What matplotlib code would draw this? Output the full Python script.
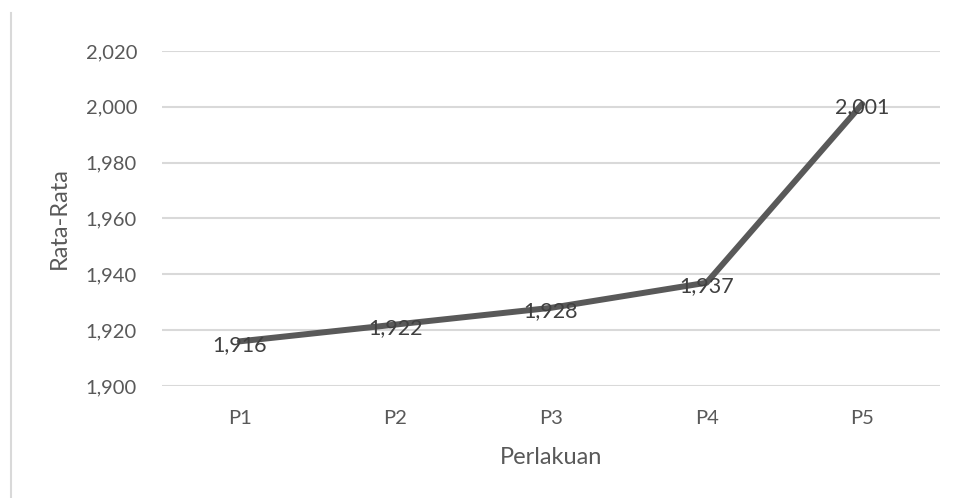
import matplotlib.pyplot as plt
from matplotlib.lines import Line2D
from matplotlib.ticker import FuncFormatter, MultipleLocator

plt.rcParams["font.family"] = ["Lato", "DejaVu Sans"]

perlakuan = ["P1", "P2", "P3", "P4", "P5"]
rata_rata = [1.916, 1.922, 1.928, 1.937, 2.001]

text_color = "#595959"
grid_color = "#d9d9d9"


def koma(v, pos=None):
    # decimal comma, three places
    return f"{v:.3f}".replace(".", ",")


fig = plt.figure(figsize=(9.62, 4.98), dpi=100)
ax = fig.add_axes([0.1684, 0.2249, 0.8087, 0.6727])

x = list(range(len(perlakuan)))
ax.plot(x, rata_rata, color="#595959", linewidth=4.3, solid_capstyle="round", zorder=3)

for xi, yi in zip(x, rata_rata):
    ax.text(xi, yi - 0.0012, koma(yi), ha="center", va="center", fontsize=15.5,
            color="#404040", zorder=4)

ax.set_xlim(-0.5, len(perlakuan) - 0.5)
ax.set_ylim(1.900, 2.020)
ax.yaxis.set_major_locator(MultipleLocator(0.020))
ax.yaxis.set_major_formatter(FuncFormatter(koma))
ax.set_xticks(x)
ax.set_xticklabels(perlakuan)

ax.grid(axis="y", color=grid_color, linewidth=1.5)
ax.set_axisbelow(True)
for s in ax.spines.values():
    s.set_visible(False)
ax.tick_params(axis="both", length=0, colors=text_color, labelsize=14.5)
ax.tick_params(axis="y", pad=18)
ax.tick_params(axis="x", pad=17)

ax.set_xlabel("Perlakuan", fontsize=17, color=text_color, labelpad=15)
ax.set_ylabel("Rata-Rata", fontsize=17, color=text_color, labelpad=11)

# thin border line on the left edge
fig.add_artist(Line2D([11 / 962, 11 / 962], [0, 1 - 13 / 498],
                      color=grid_color, linewidth=1.5))

fig.savefig("out.png", dpi=100)
